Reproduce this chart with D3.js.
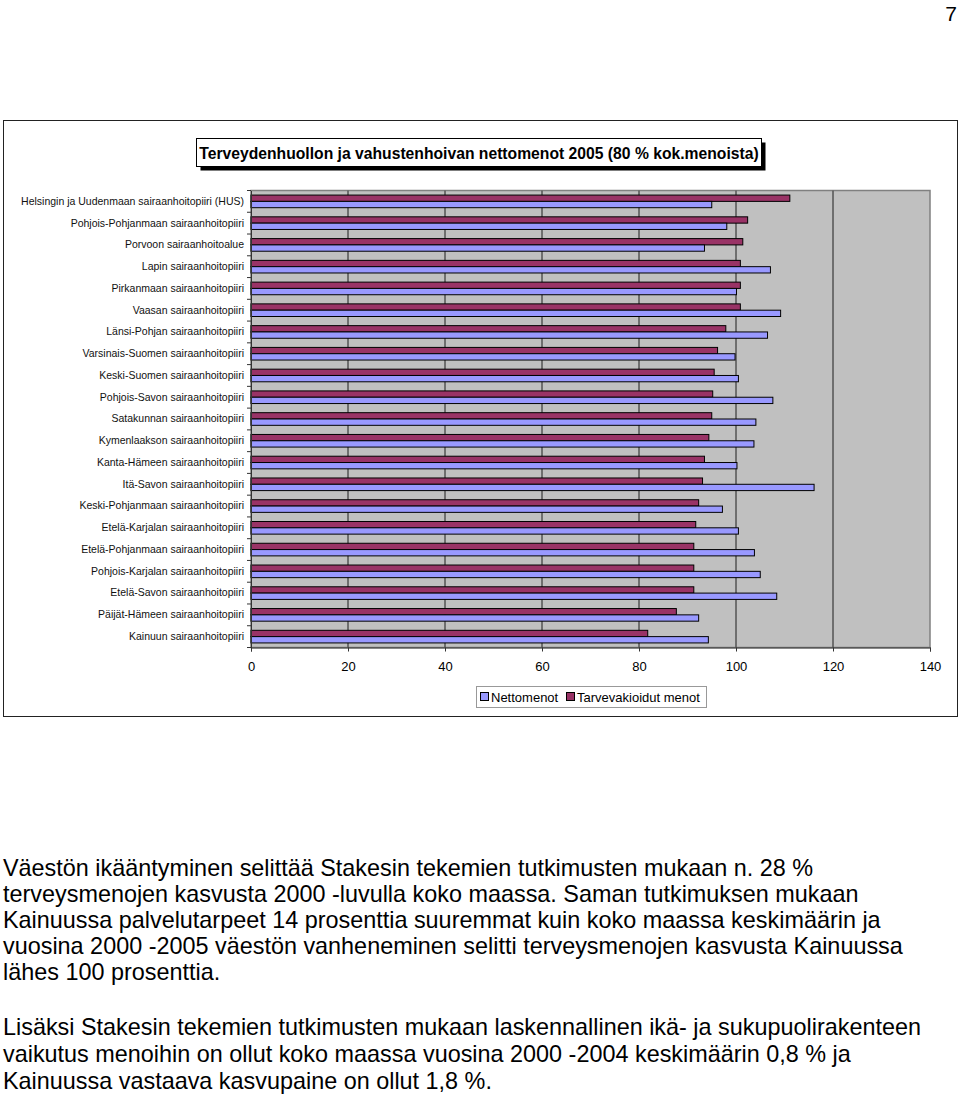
<!DOCTYPE html>
<html><head><meta charset="utf-8">
<script src="https://cdn.jsdelivr.net/npm/d3@7"></script>
<style>
html,body{margin:0;padding:0;background:#fff;}
svg{display:block;font-family:"Liberation Sans",Arial,sans-serif;}
</style></head>
<body>
<svg id="c" width="960" height="1095"></svg>
<script>
const categories = [
 "Helsingin ja Uudenmaan sairaanhoitopiiri (HUS)",
 "Pohjois-Pohjanmaan sairaanhoitopiiri",
 "Porvoon sairaanhoitoalue",
 "Lapin sairaanhoitopiiri",
 "Pirkanmaan sairaanhoitopiiri",
 "Vaasan sairaanhoitopiiri",
 "Länsi-Pohjan sairaanhoitopiiri",
 "Varsinais-Suomen sairaanhoitopiiri",
 "Keski-Suomen sairaanhoitopiiri",
 "Pohjois-Savon sairaanhoitopiiri",
 "Satakunnan sairaanhoitopiiri",
 "Kymenlaakson sairaanhoitopiiri",
 "Kanta-Hämeen sairaanhoitopiiri",
 "Itä-Savon sairaanhoitopiiri",
 "Keski-Pohjanmaan sairaanhoitopiiri",
 "Etelä-Karjalan sairaanhoitopiiri",
 "Etelä-Pohjanmaan sairaanhoitopiiri",
 "Pohjois-Karjalan sairaanhoitopiiri",
 "Etelä-Savon sairaanhoitopiiri",
 "Päijät-Hämeen sairaanhoitopiiri",
 "Kainuun sairaanhoitopiiri"
];
const nettomenot = [95.0, 98.1, 93.5, 107.1, 100.1, 109.2, 106.5, 99.8, 100.5, 107.6, 104.1, 103.7, 100.2, 116.1, 97.2, 100.5, 103.8, 105.0, 108.4, 92.3, 94.3];
const tarvevakioidut = [111.1, 102.4, 101.4, 100.9, 100.9, 100.9, 97.9, 96.2, 95.5, 95.2, 95.0, 94.4, 93.5, 93.1, 92.3, 91.7, 91.3, 91.3, 91.3, 87.7, 81.8];
const seriesNames = ["Nettomenot", "Tarvevakioidut menot"];
const xTicks = [0, 20, 40, 60, 80, 100, 120, 140];
const title = "Terveydenhuollon ja vahustenhoivan nettomenot 2005 (80 % kok.menoista)";
const para1 = [
 "Väestön ikääntyminen selittää Stakesin tekemien tutkimusten mukaan n. 28 %",
 "terveysmenojen kasvusta 2000 -luvulla koko maassa. Saman tutkimuksen mukaan",
 "Kainuussa palvelutarpeet 14 prosenttia suuremmat kuin koko maassa keskimäärin ja",
 "vuosina 2000 -2005 väestön vanheneminen selitti terveysmenojen kasvusta Kainuussa",
 "lähes 100 prosenttia."
];
const para2 = [
 "Lisäksi Stakesin tekemien tutkimusten mukaan laskennallinen ikä- ja sukupuolirakenteen",
 "vaikutus menoihin on ollut koko maassa vuosina 2000 -2004 keskimäärin 0,8 % ja",
 "Kainuussa vastaava kasvupaine on ollut 1,8 %."
];

(function(){
const colBlue = "#9999ff", colMaroon = "#993366";
const svg = d3.select("#c");

// page number
svg.append("text").attr("x", 951).attr("y", 21).attr("font-size", 21).attr("text-anchor","middle").text("7");

// outer chart border
svg.append("rect").attr("x", 3.5).attr("y", 120.5).attr("width", 954).attr("height", 596)
  .attr("fill", "#fff").attr("stroke", "#222").attr("stroke-width", 1);

// title box with shadow
const tb = {x:196.5, y:138.5, w:565, h:28};
svg.append("rect").attr("x", tb.x+4).attr("y", tb.y+4).attr("width", tb.w).attr("height", tb.h).attr("fill", "#000");
svg.append("rect").attr("x", tb.x).attr("y", tb.y).attr("width", tb.w).attr("height", tb.h).attr("fill", "#fff").attr("stroke", "#000").attr("stroke-width", 1);
svg.append("text").attr("x", tb.x + tb.w/2).attr("y", tb.y + 20).attr("text-anchor", "middle")
  .attr("font-size", 15.7).attr("font-weight", "bold").text(title);

// plot area
const pL = 251, pR = 930, pT = 190.5, pB = 647.5;
const x = d3.scaleLinear().domain([0, 140]).range([pL, pR]);
const y = d3.scaleBand().domain(categories).range([pT, pB]).paddingInner(0).paddingOuter(0);

svg.append("rect").attr("x", pL).attr("y", pT).attr("width", pR-pL).attr("height", pB-pT)
  .attr("fill", "#c0c0c0").attr("stroke", "#808080").attr("stroke-width", 1.5);

// gridlines
svg.append("g").attr("class", "grid").selectAll("line").data(xTicks.slice(1, -1)).join("line")
  .attr("x1", d => x(d)).attr("x2", d => x(d))
  .attr("y1", pT).attr("y2", pB).attr("stroke", "#5a5a5a").attr("stroke-width", 1.6);

// bars
const bh = y.bandwidth()*0.29;
const g = svg.append("g");
g.selectAll("rect.m").data(categories).join("rect").attr("class","m")
  .attr("x", pL).attr("y", d => y(d) + y.bandwidth()/2 - bh)
  .attr("width", (d,i) => x(tarvevakioidut[i]) - pL).attr("height", bh)
  .attr("fill", colMaroon).attr("stroke", "#000").attr("stroke-width", 1);
g.selectAll("rect.b").data(categories).join("rect").attr("class","b")
  .attr("x", pL).attr("y", d => y(d) + y.bandwidth()/2)
  .attr("width", (d,i) => x(nettomenot[i]) - pL).attr("height", bh)
  .attr("fill", colBlue).attr("stroke", "#000").attr("stroke-width", 1);

// y axis
const yAxis = d3.axisLeft(y).tickSize(0).tickPadding(7);
const ya = svg.append("g").attr("transform", `translate(${pL},0)`).call(yAxis);
ya.select(".domain").attr("stroke", "#333");
ya.selectAll("text").attr("font-size", 10.5).attr("fill", "#111").attr("font-family", "Liberation Sans, Arial, sans-serif");
// band tick marks
svg.append("g").selectAll("line").data(d3.range(categories.length+1)).join("line")
  .attr("x1", pL-4).attr("x2", pL).attr("y1", i => pT + i*y.step()).attr("y2", i => pT + i*y.step())
  .attr("stroke", "#333");

// x axis
const xAxis = d3.axisBottom(x).tickValues(xTicks).tickSize(4).tickPadding(10).tickFormat(d3.format("d"));
const xa = svg.append("g").attr("transform", `translate(0,${pB})`).call(xAxis);
xa.select(".domain").attr("stroke", "#333");
xa.selectAll("line").attr("stroke", "#333");
xa.selectAll("text").attr("font-size", 13).attr("fill", "#000").attr("font-family", "Liberation Sans, Arial, sans-serif");

// legend
const lg = svg.append("g");
lg.append("rect").attr("x", 476.5).attr("y", 686.5).attr("width", 230).attr("height", 21)
  .attr("fill", "#fff").attr("stroke", "#999");
const legItems = [{name: seriesNames[0], c: colBlue, x: 480}, {name: seriesNames[1], c: colMaroon, x: 566}];
legItems.forEach(it => {
  lg.append("rect").attr("x", it.x+0.5).attr("y", 692.5).attr("width", 8).attr("height", 8)
    .attr("fill", it.c).attr("stroke", "#000");
  lg.append("text").attr("x", it.x + 11).attr("y", 701.5).attr("font-size", 13).text(it.name);
});

// body text
const bt = svg.append("g").attr("font-size", 23.4).attr("fill", "#000");
para1.forEach((t,i) => bt.append("text").attr("x", 3).attr("y", 876 + i*26.1).text(t));
para2.forEach((t,i) => bt.append("text").attr("x", 3).attr("y", 1035 + i*27).text(t));
})();
</script>
</body></html>
